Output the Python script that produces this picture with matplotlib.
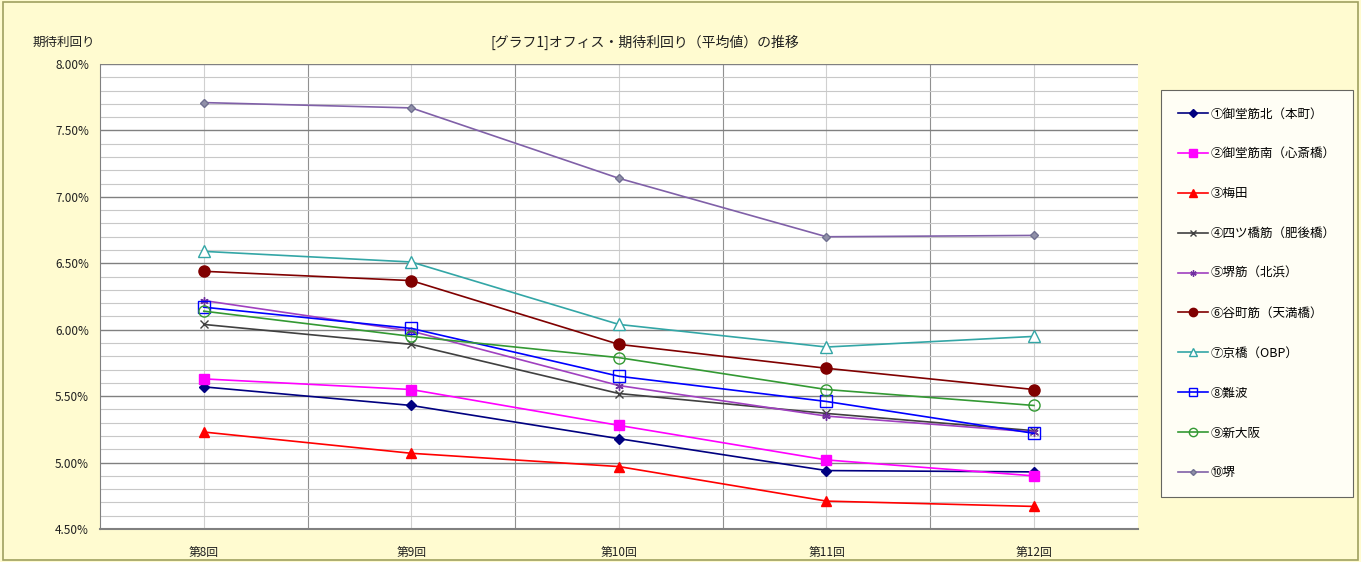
import matplotlib
matplotlib.use("Agg")
import matplotlib.pyplot as plt
from matplotlib.ticker import MultipleLocator, FuncFormatter, FixedLocator
from matplotlib.patches import Rectangle

plt.rcParams['font.family'] = ['Noto Sans CJK JP', 'DejaVu Sans']

categories = ["第8回", "第9回", "第10回", "第11回", "第12回"]
names = ["①御堂筋北（本町）", "②御堂筋南（心斎橋）", "③梅田", "④四ツ橋筋（肥後橋）",
         "⑤堺筋（北浜）", "⑥谷町筋（天満橋）", "⑦京橋（OBP）", "⑧難波", "⑨新大阪", "⑩堺"]
s1 = [5.57, 5.43, 5.18, 4.94, 4.93]
s2 = [5.63, 5.55, 5.28, 5.02, 4.90]
s3 = [5.23, 5.07, 4.97, 4.71, 4.67]
s4 = [6.04, 5.89, 5.52, 5.37, 5.24]
s5 = [6.22, 5.99, 5.58, 5.35, 5.23]
s6 = [6.44, 6.37, 5.89, 5.71, 5.55]
s7 = [6.59, 6.51, 6.04, 5.87, 5.95]
s8 = [6.17, 6.01, 5.65, 5.46, 5.22]
s9 = [6.14, 5.95, 5.79, 5.55, 5.43]
s10 = [7.71, 7.67, 7.14, 6.70, 6.71]
series = [s1, s2, s3, s4, s5, s6, s7, s8, s9, s10]

styles = [
    dict(color="#000080", marker="D", ms=5, mfc="#000080", mec="#000080"),
    dict(color="#FF00FF", marker="s", ms=7, mfc="#FF00FF", mec="#FF00FF"),
    dict(color="#FF0000", marker="^", ms=7, mfc="#FF0000", mec="#FF0000"),
    dict(color="#404040", marker="x", ms=6, mfc="none", mec="#404040"),
    dict(color="#A040C0", marker=(6, 2, 0), ms=6, mfc="#A040C0", mec="#7030A0"),
    dict(color="#800000", marker="o", ms=8, mfc="#800000", mec="#800000"),
    dict(color="#33A6A6", marker="^", ms=8, mfc="white", mec="#33A6A6"),
    dict(color="#0000FF", marker="s", ms=8, mfc="none", mec="#0000FF"),
    dict(color="#339933", marker="o", ms=8, mfc="none", mec="#339933"),
    dict(color="#8060A8", marker="D", ms=4, mfc="#9090A8", mec="#707090"),
]

fig = plt.figure(figsize=(13.61, 5.62), dpi=100)
fig.patch.set_facecolor("#FFFBD0")
fig.add_artist(Rectangle((0.002, 0.003), 0.996, 0.994, transform=fig.transFigure,
                         fill=False, ec="#A0A060", lw=1.2))

ax = fig.add_axes([0.0735, 0.0587, 0.7625, 0.8273])
ax.set_facecolor("white")
x = list(range(len(categories)))

for vals, name, st in zip(series, names, styles):
    ax.plot(x, vals, lw=1.2, label=name, zorder=3, **st)

ax.set_xlim(-0.5, 4.5)
ax.set_ylim(4.5, 8.0)
ax.yaxis.set_major_locator(MultipleLocator(0.5))
ax.yaxis.set_minor_locator(MultipleLocator(0.1))
ax.yaxis.set_major_formatter(FuncFormatter(lambda v, p: f"{v:.2f}%"))
ax.set_xticks(x)
ax.set_xticklabels(categories)
ax.xaxis.set_minor_locator(FixedLocator([0.5, 1.5, 2.5, 3.5]))

ax.grid(True, which="major", axis="y", color="#808080", lw=1.0, zorder=0)
ax.grid(True, which="minor", axis="y", color="#C8C8C8", lw=0.8, zorder=0)
ax.grid(True, which="minor", axis="x", color="#909090", lw=0.8, zorder=0)
ax.grid(True, which="major", axis="x", color="#D0D0D0", lw=0.8, zorder=0)
ax.set_axisbelow(True)

ax.tick_params(axis="both", which="both", length=0, labelsize=8.5, colors="#202020")
ax.tick_params(axis="y", pad=8)
ax.tick_params(axis="x", pad=12)
for side in ["top", "right"]:
    ax.spines[side].set_visible(False)
ax.spines["left"].set_color("#808080")
ax.spines["bottom"].set_color("#808080")
ax.spines["bottom"].set_linewidth(1.5)

fig.text(0.474, 0.925, "[グラフ1]オフィス・期待利回り（平均値）の推移", ha="center", va="center",
         fontsize=10, color="#202020")
fig.text(0.024, 0.925, "期待利回り", ha="left", va="center", fontsize=9, color="#202020")

leg = fig.legend(loc="upper left", bbox_to_anchor=(0.853, 0.84), frameon=True,
                 fancybox=False, edgecolor="#404040", facecolor="white",
                 fontsize=9, handlelength=2.4, labelspacing=2.15, borderpad=1.4,
                 handletextpad=0.2, borderaxespad=0, markerscale=0.75)
leg.get_frame().set_linewidth(0.8)

fig.savefig("out.png", dpi=100, facecolor=fig.get_facecolor())
